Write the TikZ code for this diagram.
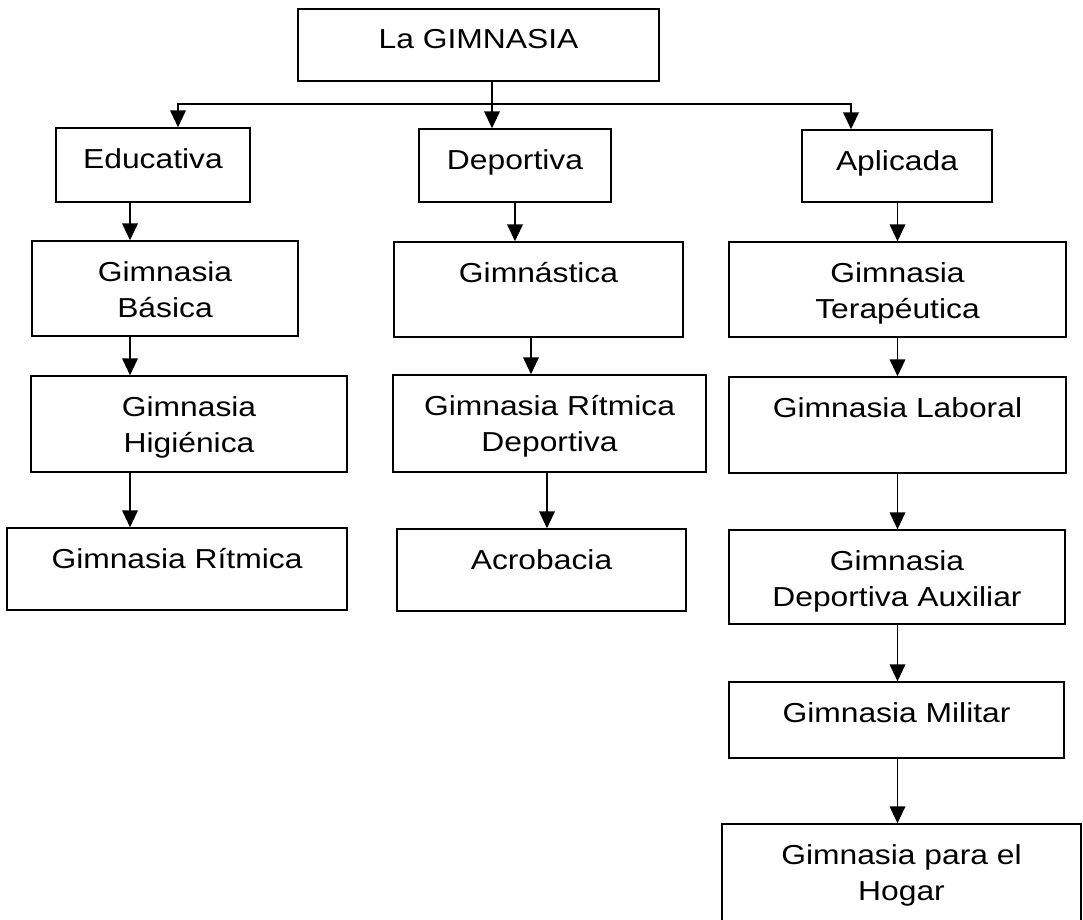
\documentclass[tikz,border=0pt]{standalone}
\usepackage{fontspec}
\setmainfont{Liberation Sans}[FakeStretch=1.16]
\usetikzlibrary{arrows.meta,positioning,calc}

\tikzset{
  gbox/.style={draw, line width=1.1pt, inner sep=0pt},
  gtxt/.style={anchor=north, align=center, inner sep=0pt, yshift=-0.52cm,
               font=\fontsize{19.5}{25.5}\selectfont},
  gline/.style={line width=1.1pt},
  garr/.style={-{Triangle[length=4.2mm,width=3.9mm]}, line width=1.1pt},
}

\begin{document}
\begin{tikzpicture}[x=0.025cm, y=-0.025cm]
  \path[use as bounding box, fill=white] (0,0) rectangle (1083,919);
  \clip (0,0) rectangle (1083,919);

  % boxes: name/centre x/centre y/width/height/text (in px)
  \foreach \n/\cx/\cy/\w/\h/\t in {
      gim/478.5/45/361/72/{La GIMNASIA},
      edu/153/165/194/74/Educativa,
      dep/515/165.5/192/73/Deportiva,
      apl/897/166/190/72/Aplicada,
      bas/165/288.5/266/95/{Gimnasia\\Básica},
      hig/189/424/316/96/{Gimnasia\\Higiénica},
      rit/177/569/340/82/{Gimnasia Rítmica},
      gmn/538.5/289.5/289/95/Gimnástica,
      grd/549.5/423.5/313/97/{Gimnasia Rítmica\\Deportiva},
      acr/541.5/570/289/82/Acrobacia,
      ter/897.5/289.5/337/95/{Gimnasia\\Terapéutica},
      lab/897.5/425/337/96/{Gimnasia Laboral},
      aux/897/577/336/94/{Gimnasia\\Deportiva Auxiliar},
      mil/896.5/720/335/76/{Gimnasia Militar},
      hog/901.5/874.5/359/101/{Gimnasia para el\\Hogar}} {
    \node[gbox, minimum width=\w*0.025cm, minimum height=\h*0.025cm,
          label={[gtxt, name=\n-t]north:\t}] (\n) at (\cx,\cy) {};
  }

  % branching from the top box
  \coordinate (bus) at (492,104);
  \coordinate (bl) at (178,104);
  \coordinate (br) at (851,104);
  \draw[gline] (gim.south -| bus) -- (bus);
  \draw[garr] (bus) -- (bl) -- (edu.north -| bl);
  \draw[garr] (bus) -- (br) -- (apl.north -| br);
  \draw[garr] (bus) -- (dep.north -| bus);

  % left column
  \coordinate (ca) at (130,0);
  \foreach \a/\b in {edu/bas, bas/hig, hig/rit}
    \draw[garr] (\a.south -| ca) -- (\b.north -| ca);

  % middle column
  \draw[garr] (dep.south) -- (gmn.north -| dep.south);
  \draw[garr] (gmn.south -| 531,0) -- (grd.north -| 531,0);
  \draw[garr] (grd.south -| 547,0) -- (acr.north -| 547,0);

  % right column
  \coordinate (cc) at (897.5,0);
  \foreach \a/\b in {apl/ter, ter/lab, lab/aux, aux/mil, mil/hog}
    \draw[garr] (\a.south -| cc) -- (\b.north -| cc);
\end{tikzpicture}
\end{document}
